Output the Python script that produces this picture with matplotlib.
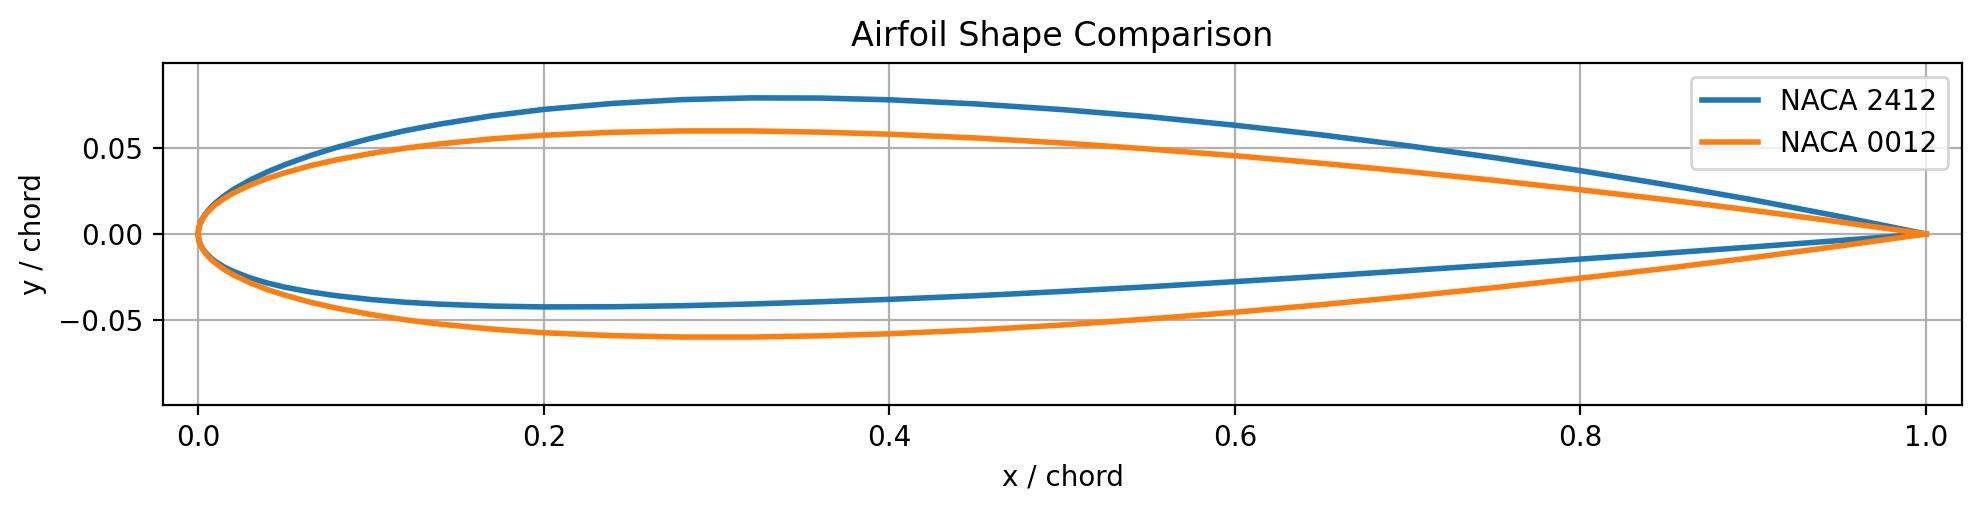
import numpy as np
import matplotlib
matplotlib.use("Agg")
import matplotlib.pyplot as plt

# chord stations (x / chord)
x_sta = [0.0, 0.0002, 0.0005, 0.001, 0.002, 0.0035, 0.005, 0.0075, 0.01, 0.015,
         0.02, 0.03, 0.04, 0.05, 0.065, 0.08, 0.1, 0.12, 0.14, 0.17,
         0.2, 0.24, 0.28, 0.32, 0.36, 0.4, 0.45, 0.5, 0.55, 0.6,
         0.65, 0.7, 0.75, 0.8, 0.85, 0.9, 0.95, 1.0]

# NACA 2412 upper / lower surface
y2412_up = [0.0, 0.0025, 0.0040, 0.0057, 0.0080, 0.0106, 0.0127, 0.0156, 0.0180, 0.0221,
            0.0256, 0.0313, 0.0361, 0.0402, 0.0456, 0.0503, 0.0556, 0.0601, 0.0639, 0.0687,
            0.0724, 0.0759, 0.0781, 0.0791, 0.0790, 0.0780, 0.0756, 0.0723, 0.0682, 0.0632,
            0.0576, 0.0513, 0.0444, 0.0368, 0.0286, 0.0198, 0.0102, 0.0]
y2412_lo = [0.0, -0.0025, -0.0039, -0.0055, -0.0076, -0.0099, -0.0117, -0.0141, -0.0160, -0.0192,
            -0.0216, -0.0255, -0.0285, -0.0309, -0.0337, -0.0359, -0.0381, -0.0397, -0.0408, -0.0419,
            -0.0424, -0.0423, -0.0417, -0.0407, -0.0394, -0.0380, -0.0359, -0.0334, -0.0307, -0.0277,
            -0.0246, -0.0213, -0.0180, -0.0146, -0.0111, -0.0075, -0.0038, 0.0]

# NACA 0012 half thickness (symmetric section)
y0012 = [0.0, 0.0025, 0.0039, 0.0056, 0.0078, 0.0103, 0.0122, 0.0148, 0.0170, 0.0206,
         0.0236, 0.0284, 0.0323, 0.0355, 0.0397, 0.0431, 0.0468, 0.0499, 0.0524, 0.0553,
         0.0574, 0.0591, 0.0599, 0.0599, 0.0592, 0.0580, 0.0558, 0.0529, 0.0494, 0.0455,
         0.0411, 0.0363, 0.0312, 0.0257, 0.0199, 0.0137, 0.0070, 0.0]

x = np.array(x_sta)
# closed outline: trailing edge -> upper -> leading edge -> lower -> trailing edge
xs = np.concatenate([x[::-1], x[1:]])
ys_2412 = np.concatenate([np.array(y2412_up)[::-1], np.array(y2412_lo)[1:]])
ys_0012 = np.concatenate([np.array(y0012)[::-1], -np.array(y0012)[1:]])

fig = plt.figure(figsize=(9.9, 2.56), dpi=200)
ax = fig.add_axes([0.0823, 0.209, 0.9086, 0.668])

ax.plot(xs, ys_2412, color='tab:blue', lw=2, label='NACA 2412')
ax.plot(xs, ys_0012, color='tab:orange', lw=2, label='NACA 0012')

ax.set_xlim(-0.0204, 1.0208)
ax.set_ylim(-0.0994, 0.0994)
ax.set_yticks([-0.05, 0.0, 0.05])
ax.grid(True)
ax.legend(loc='upper right')
ax.set_xlabel('x / chord')
ax.set_ylabel('y / chord')
ax.set_title('Airfoil Shape Comparison')

fig.savefig('out.png', dpi=200)
